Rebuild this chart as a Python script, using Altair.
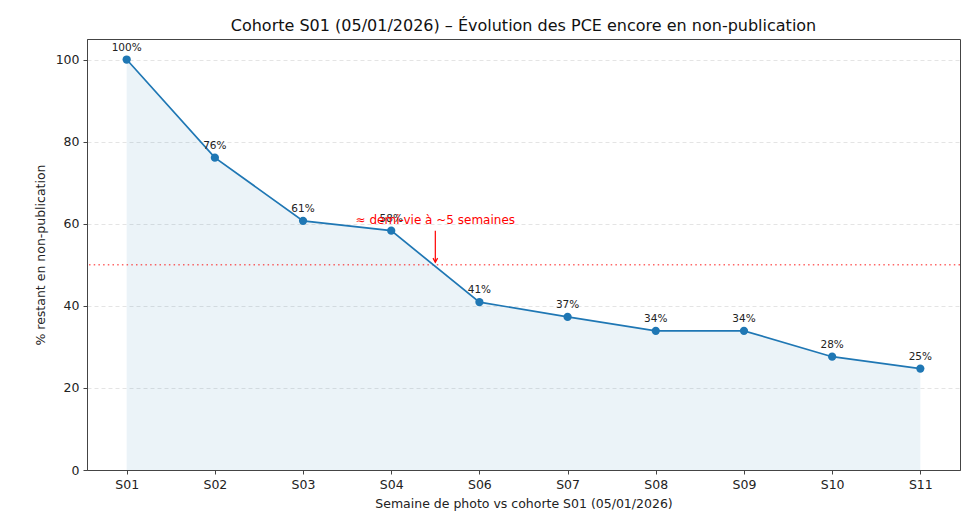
import altair as alt
import pandas as pd

weeks = ["S01", "S02", "S03", "S04", "S06", "S07", "S08", "S09", "S10", "S11"]
pct = [100.0, 76.1, 60.7, 58.3, 40.9, 37.3, 33.9, 33.9, 27.6, 24.7]
labels = ["100%", "76%", "61%", "58%", "41%", "37%", "34%", "34%", "28%", "25%"]
half_life = 50
annot_text = "≈ demi-vie à ~5 semaines"
annot_x = 3.5
annot_text_y = 61
arrow_from = 58.3
arrow_to = 50.6

df = pd.DataFrame({"i": list(range(len(weeks))), "week": weeks, "pct": pct, "label": labels})

label_expr = "[" + ",".join(f"'{w}'" for w in weeks) + "][datum.value]"

FONT = "DejaVu Sans"
BLUE = "#1f77b4"

x_enc = alt.X("i:Q", scale=alt.Scale(domain=[-0.45, len(weeks) - 0.55], nice=False, zero=False),
              axis=alt.Axis(values=list(range(len(weeks))), labelExpr=label_expr,
                            title="Semaine de photo vs cohorte S01 (05/01/2026)", grid=False))
y_enc = alt.Y("pct:Q", scale=alt.Scale(domain=[0, 105], nice=False),
              axis=alt.Axis(values=[0, 20, 40, 60, 80, 100], title="% restant en non-publication",
                            grid=True, gridDash=[4, 3], gridColor="#dddddd", gridWidth=0.8))

base = alt.Chart(df)

area = base.mark_area(color=BLUE, opacity=0.09).encode(x=x_enc, y=y_enc)
line = base.mark_line(color=BLUE, strokeWidth=1.7).encode(x="i:Q", y="pct:Q")
points = base.mark_point(color=BLUE, filled=True, opacity=1, size=68).encode(x="i:Q", y="pct:Q")
texts = base.mark_text(font=FONT, fontSize=10.5, color="#222", dy=-12).encode(
    x="i:Q", y="pct:Q", text="label:N")

hl = alt.Chart(pd.DataFrame({"y": [half_life]})).mark_rule(
    color="#ff0000", opacity=0.6, strokeDash=[1.5, 3.2], strokeWidth=1.6).encode(y="y:Q")

ann_df = pd.DataFrame({"x": [annot_x], "ty": [annot_text_y], "y1": [arrow_from], "y2": [arrow_to],
                       "t": [annot_text]})
ann_text = alt.Chart(ann_df).mark_text(font=FONT, fontSize=12, color="#ff0000").encode(
    x="x:Q", y="ty:Q", text="t:N")
ann_rule = alt.Chart(ann_df).mark_rule(color="#ff0000", strokeWidth=1.2).encode(
    x="x:Q", y="y1:Q", y2="y2:Q")
ann_head = alt.Chart(ann_df).mark_point(
    shape="M-0.55,-1L0,0L0.55,-1", filled=False, color="#ff0000", strokeWidth=1.2, size=70,
    opacity=1).encode(x="x:Q", y="y2:Q")

chart = alt.layer(area, hl, line, points, texts, ann_text, ann_rule, ann_head).properties(
    width=873, height=431,
    autosize=alt.AutoSizeParams(type="none"),
    padding={"left": 79, "top": 31, "right": 12, "bottom": 41},
    title=alt.TitleParams("Cohorte S01 (05/01/2026) – Évolution des PCE encore en non-publication",
                          font=FONT, fontSize=16, fontWeight="normal", color="#111", offset=5),
).configure_view(stroke="#444", strokeWidth=1).configure_axis(
    labelFont=FONT, titleFont=FONT, labelFontSize=12.5, titleFontSize=12.5,
    labelColor="#222", titleColor="#222", titleFontWeight="normal",
    domainColor="#444", tickColor="#444", tickSize=4, labelPadding=4,
).configure_axisY(titlePadding=8).configure_axisX(titlePadding=7)

chart.save("out.html", embed_options={"renderer": "svg", "actions": False})
